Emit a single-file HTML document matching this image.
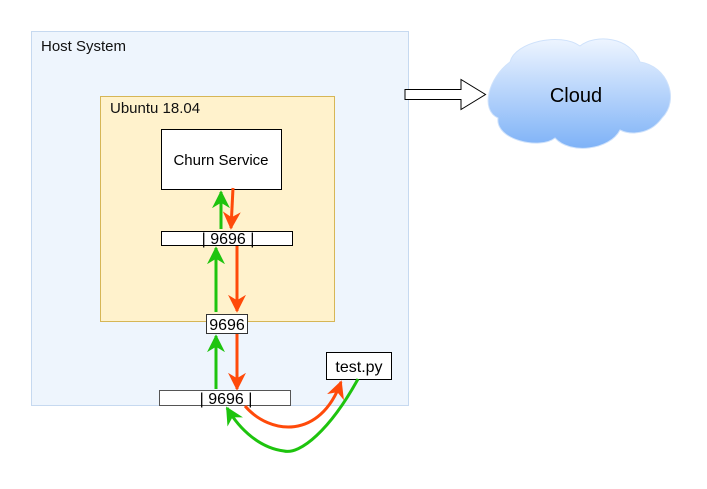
<!DOCTYPE html>
<html><head><style>body{margin:0;background:#fff}</style></head><body>
<svg width="707" height="484" xmlns="http://www.w3.org/2000/svg" font-family="Liberation Sans, sans-serif">
<defs>
<linearGradient id="g" x1="0" y1="0" x2="0" y2="1"><stop offset="0" stop-color="#eef5ff"/><stop offset="1" stop-color="#7eb2f7"/></linearGradient>
<marker id="ag" viewBox="0 0 10 10" refX="9" refY="5" markerWidth="6" markerHeight="6" orient="auto"><path d="M0,0 L10,5 L0,10 L3,5z" fill="#1ec40e"/></marker>
<marker id="ar" viewBox="0 0 10 10" refX="9" refY="5" markerWidth="6" markerHeight="6" orient="auto"><path d="M0,0 L10,5 L0,10 L3,5z" fill="#ff4a0a"/></marker>
</defs>
<rect x="31.5" y="31.5" width="377" height="374" fill="#eef5fd" stroke="#c6d9f0"/>
<text x="41" y="51" font-size="15" fill="#111">Host System</text>
<rect x="100.5" y="96.5" width="234" height="225" fill="#fff2cc" stroke="#d6b656"/>
<text x="110" y="113" font-size="15" fill="#111">Ubuntu 18.04</text>
<rect x="161.5" y="129.5" width="120" height="60" fill="#fff" stroke="#000"/>
<text x="221" y="165" font-size="15" text-anchor="middle">Churn Service</text>
<rect x="161.5" y="231.5" width="131" height="14" fill="#fff" stroke="#000"/>
<text x="228" y="244" font-size="16" text-anchor="middle">| 9696 |</text>
<rect x="206.5" y="314.5" width="41" height="19" fill="#fff" stroke="#333"/>
<text x="227" y="330" font-size="16" text-anchor="middle">9696</text>
<rect x="159.5" y="390.5" width="131" height="15" fill="#fff" stroke="#555"/>
<text x="226" y="404" font-size="16" text-anchor="middle">| 9696 |</text>
<rect x="326.5" y="352.5" width="65" height="27" fill="#fff" stroke="#000"/>
<text x="359" y="372" font-size="16" text-anchor="middle">test.py</text>
<g stroke-width="3" fill="none">
<path d="M221,229 V192" stroke="#1ec40e" marker-end="url(#ag)"/>
<path d="M233,188 L231,228" stroke="#ff4a0a" marker-end="url(#ar)"/>
<path d="M216,312 V248" stroke="#1ec40e" marker-end="url(#ag)"/>
<path d="M237,246 V311" stroke="#ff4a0a" marker-end="url(#ar)"/>
<path d="M216,389 V336" stroke="#1ec40e" marker-end="url(#ag)"/>
<path d="M237,334 V389" stroke="#ff4a0a" marker-end="url(#ar)"/>
<path d="M245,406 C270,435 320,440 341,382" stroke="#ff4a0a" marker-end="url(#ar)"/>
<path d="M358,379 C330,430 300,455 284,451 C260,448 240,430 227,408" stroke="#1ec40e" marker-end="url(#ag)"/>
</g>
<path d="M405,89.5 H461 V79.5 L485.5,94.5 L461,109.5 V99.5 H405 Z" fill="#fff" stroke="#000"/>
<path d="M510,62 C515,42 560,32 580,46 C595,34 630,36 640,62 C668,66 680,100 662,118 C650,135 630,135 620,130 C610,150 570,155 555,138 C540,150 495,140 498,118 C480,110 488,78 510,62 Z" fill="url(#g)" stroke="#cfe2fb"/>
<text x="576" y="102" font-size="20" text-anchor="middle">Cloud</text>
</svg>
</body></html>
